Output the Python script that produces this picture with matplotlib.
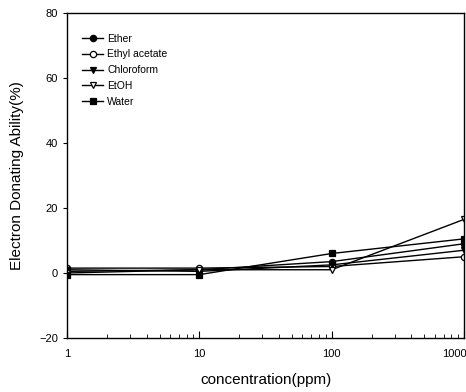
import matplotlib
matplotlib.use("Agg")
import matplotlib.pyplot as plt
import matplotlib.transforms as mtransforms

# Data
conc = [1, 10, 100, 1000]
ether = [0.5, 1.0, 3.5, 9.0]
ethyl_acetate = [1.5, 1.5, 2.0, 5.0]
chloroform = [1.0, 0.5, 2.5, 7.0]
etoh = [0.0, 1.0, 1.0, 16.5]
water = [-0.5, -0.5, 6.0, 10.5]

plt.rcParams["font.family"] = ["Liberation Sans Narrow", "Liberation Sans", "DejaVu Sans"]

fig = plt.figure(figsize=(4.66, 3.92), dpi=100)
ax = fig.add_axes([0.1438, 0.1378, 0.852, 0.8290])

style = dict(color="black", linewidth=1.0, markersize=4.5, markeredgewidth=0.9)
ax.plot(conc, ether, marker="o", markerfacecolor="black", label="Ether", **style)
ax.plot(conc, ethyl_acetate, marker="o", markerfacecolor="white", label="Ethyl acetate", **style)
ax.plot(conc, chloroform, marker="v", markerfacecolor="black", label="Chloroform", **style)
ax.plot(conc, etoh, marker="v", markerfacecolor="white", label="EtOH", **style)
ax.plot(conc, water, marker="s", markerfacecolor="black", label="Water", **style)

ax.set_xscale("log")
ax.set_xlim(1, 1000)
ax.set_ylim(-20, 80)
ax.set_xticks([1, 10, 100, 1000])
ax.set_xticklabels(["1", "10", "100", "1000"])
ax.set_yticks([-20, 0, 20, 40, 60, 80])

ax.tick_params(axis="x", which="both", direction="in", top=False, labelsize=8, pad=8)
ax.tick_params(axis="x", which="major", length=5)
ax.tick_params(axis="x", which="minor", length=3)
ax.tick_params(axis="y", direction="out", right=False, labelsize=8, length=3)

# the last tick label sits against the right edge, nudge it inside
last = ax.get_xticklabels()[-1]
last.set_transform(last.get_transform()
                   + mtransforms.ScaledTranslation(-0.1, 0, fig.dpi_scale_trans))

for s in ax.spines.values():
    s.set_linewidth(1.0)

ax.set_xlabel("concentration(ppm)", fontsize=11, labelpad=10)
ax.set_ylabel("Electron Donating Ability(%)", fontsize=11, labelpad=11)

ax.legend(loc="upper left", bbox_to_anchor=(0.015, 0.965), frameon=False, fontsize=7.5,
          handlelength=2.0, labelspacing=0.55, handletextpad=0.4)

fig.savefig("out.png", dpi=100)
